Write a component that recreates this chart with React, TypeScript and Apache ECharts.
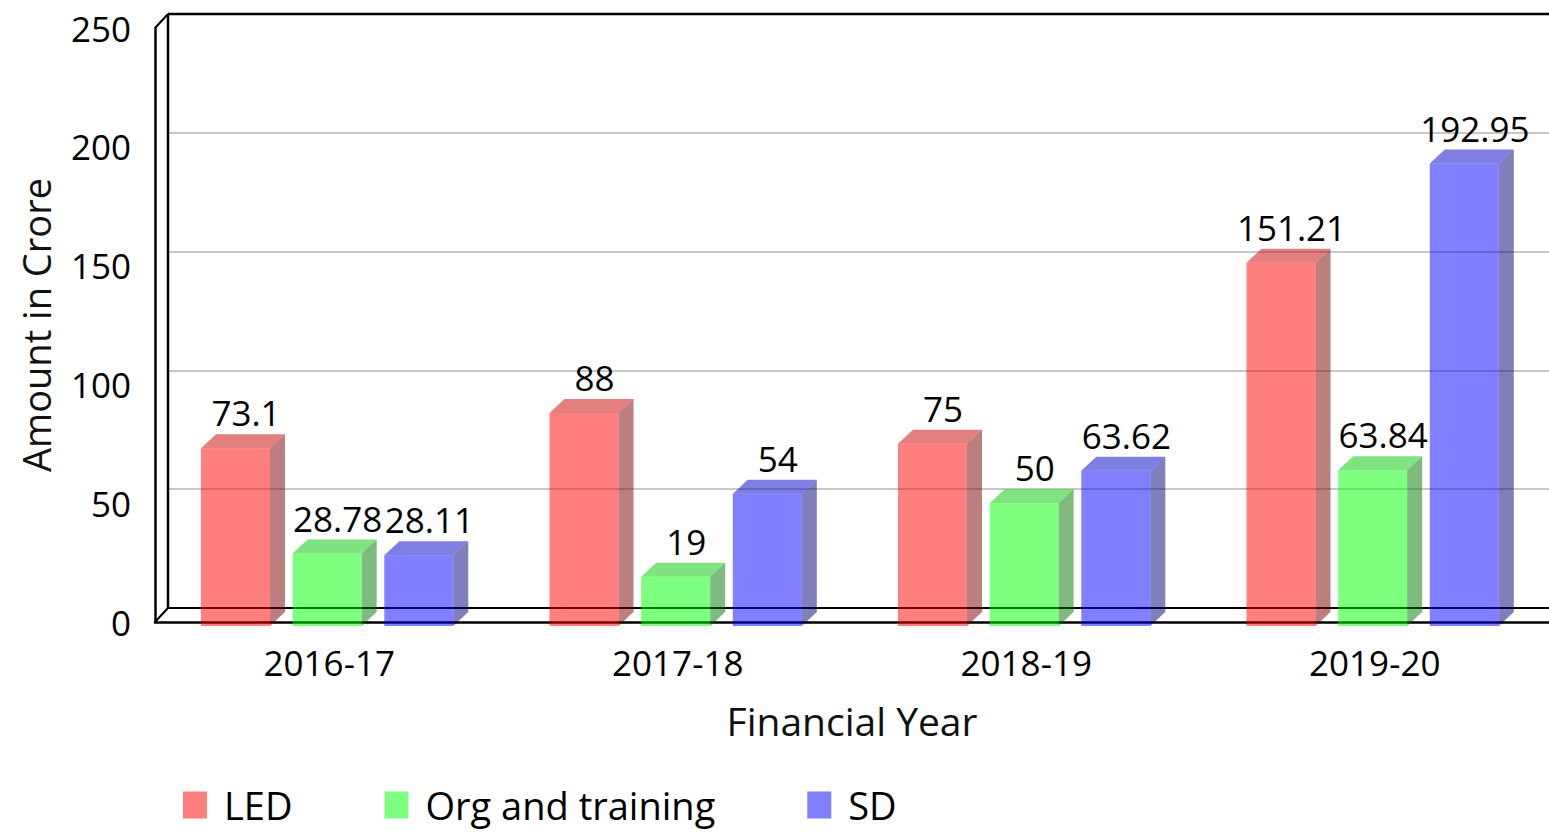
import React, { useEffect, useRef } from "react";
import * as echarts from "echarts";

const categories = ["2016-17", "2017-18", "2018-19", "2019-20"];
const ledValues = [73.1, 88, 75, 151.21];
const orgValues = [28.78, 19, 50, 63.84];
const sdValues = [28.11, 54, 63.62, 192.95];
const yTicks = [0, 50, 100, 150, 200, 250];

const FONT = "'Open Sans', 'Noto Sans', sans-serif";
const DX = 15;
const DY = 14;

function makeSeries(name: string, values: number[], offsetFrac: number, front: string, side: string, top: string) {
  return {
    type: "custom",
    name,
    xAxisIndex: 0,
    yAxisIndex: 0,
    clip: false,
    z: 5,
    data: values.map((v, i) => [i, v]),
    itemStyle: { color: front },
    renderItem: (params: any, api: any) => {
      const ci = api.value(0);
      const v = api.value(1);
      const base = api.coord([ci, 0]);
      const tp = api.coord([ci, v]);
      const band = api.size([1, 0])[0];
      const w = band * 0.198;
      const xl = base[0] - band / 2 + band * offsetFrac;
      const yb = base[1] + 4;
      const yt = tp[1];
      return {
        type: "group",
        children: [
          {
            type: "polygon",
            shape: { points: [[xl + w, yt], [xl + w + DX, yt - DY], [xl + w + DX, yb - DY], [xl + w, yb]] },
            style: { fill: side },
          },
          {
            type: "polygon",
            shape: { points: [[xl, yt], [xl + DX, yt - DY], [xl + w + DX, yt - DY], [xl + w, yt]] },
            style: { fill: top },
          },
          {
            type: "rect",
            shape: { x: xl, y: yt, width: w, height: yb - yt },
            style: { fill: front },
          },
          {
            type: "text",
            x: xl + (w + DX) / 2 + 3,
            y: yt - DY - 4,
            style: {
              text: String(v),
              fill: "#000",
              font: `35px ${FONT}`,
              textAlign: "center",
              textVerticalAlign: "bottom",
            },
          },
        ],
      };
    },
  };
}

export default function App() {
  const ref = useRef<HTMLDivElement>(null);
  useEffect(() => {
    const chart = echarts.init(ref.current!, null, { renderer: "svg" });
    const option: any = {
      animation: false,
      backgroundColor: "#fff",
      textStyle: { fontFamily: FONT },
      grid: [
        { left: 155, right: 0, top: 28, bottom: 212 },
        { left: 168, right: -4, top: 14, bottom: 226 },
      ],
      xAxis: [
        {
          type: "category",
          gridIndex: 0,
          data: categories,
          axisLine: { show: true, lineStyle: { color: "#000", width: 2.5 } },
          axisTick: { show: false },
          axisLabel: { color: "#000", fontSize: 35, margin: 23, fontFamily: FONT },
          name: "Financial Year",
          nameLocation: "middle",
          nameGap: 79,
          nameTextStyle: { color: "#111", fontSize: 39, fontFamily: FONT },
        },
        {
          type: "category",
          gridIndex: 1,
          data: categories,
          show: false,
        },
      ],
      yAxis: [
        {
          type: "value",
          gridIndex: 0,
          min: 0,
          max: 250,
          interval: 50,
          axisLine: { show: true, lineStyle: { color: "#000", width: 2.5 } },
          axisTick: { show: false },
          splitLine: { show: false },
          axisLabel: {
            color: "#000",
            fontSize: 35,
            margin: 24,
            fontFamily: FONT,
            formatter: (v: number) => (yTicks.includes(v) ? String(v) : ""),
          },
          name: "Amount in Crore",
          nameLocation: "middle",
          nameGap: 100,
          nameTextStyle: { color: "#111", fontSize: 38, fontFamily: FONT },
        },
        {
          type: "value",
          gridIndex: 1,
          min: 0,
          max: 250,
          interval: 50,
          axisLine: { show: false },
          axisTick: { show: false },
          axisLabel: { show: false },
          splitLine: { show: true, lineStyle: { color: "#c8c8c8", width: 2 } },
        },
      ],
      legend: {
        left: 178,
        bottom: 5,
        itemWidth: 24,
        itemHeight: 27,
        itemGap: 92,
        icon: "rect",
        textStyle: { fontSize: 38, color: "#000", fontFamily: FONT, padding: [0, 0, 0, 12] },
        data: ["LED", "Org and training", "SD"],
      },
      graphic: [
        { type: "line", z: 1, shape: { x1: 168, y1: 14, x2: 1549, y2: 14 }, style: { stroke: "#000", lineWidth: 2.5 } },
        { type: "line", z: 1, shape: { x1: 168, y1: 14, x2: 168, y2: 608 }, style: { stroke: "#000", lineWidth: 2.5 } },
        { type: "line", z: 1, shape: { x1: 168, y1: 608, x2: 1549, y2: 608 }, style: { stroke: "#000", lineWidth: 2 } },
        { type: "line", z: 1, shape: { x1: 155, y1: 28, x2: 168, y2: 14 }, style: { stroke: "#000", lineWidth: 2 } },
        { type: "line", z: 1, shape: { x1: 155, y1: 622, x2: 168, y2: 608 }, style: { stroke: "#000", lineWidth: 2 } },
      ],
      series: [
        makeSeries("LED", ledValues, 0.132, "rgba(255,0,0,0.5)", "rgba(120,0,0,0.5)", "rgba(200,0,0,0.5)"),
        makeSeries("Org and training", orgValues, 0.395, "rgba(0,255,0,0.5)", "rgba(0,120,0,0.5)", "rgba(0,200,0,0.5)"),
        makeSeries("SD", sdValues, 0.658, "rgba(0,0,255,0.5)", "rgba(0,0,120,0.5)", "rgba(0,0,200,0.5)"),
      ],
    };
    chart.setOption(option);
    return () => chart.dispose();
  }, []);
  return (
    <div
      ref={ref}
      style={{ position: "fixed", left: 0, top: 0, width: 1549, height: 834 }}
    />
  );
}
